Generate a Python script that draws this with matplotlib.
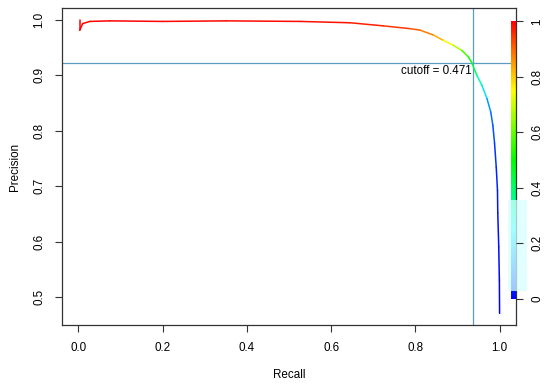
import colorsys
import numpy as np
import matplotlib
matplotlib.use("Agg")
import matplotlib.pyplot as plt
from matplotlib.collections import LineCollection
from matplotlib.colors import ListedColormap
from matplotlib.patches import Rectangle

# values
recall = [0.003, 0.003, 0.010, 0.027, 0.075, 0.200, 0.350, 0.526, 0.645, 0.724,
          0.787, 0.811, 0.843, 0.866, 0.890, 0.910, 0.926, 0.934, 0.946, 0.958,
          0.970, 0.979, 0.984, 0.988, 0.992, 0.995, 0.9957, 0.998, 0.9995, 1.0]
precision = [1.0, 0.981, 0.993, 0.997, 0.998, 0.997, 0.998, 0.997, 0.9946, 0.989,
             0.984, 0.9814, 0.9724, 0.963, 0.954, 0.945, 0.933, 0.9225, 0.900, 0.882,
             0.858, 0.834, 0.810, 0.778, 0.735, 0.693, 0.652, 0.591, 0.531, 0.471]
cutoff = [1.0, 0.999, 0.999, 0.998, 0.997, 0.995, 0.993, 0.99, 0.98, 0.96,
          0.935, 0.90, 0.86, 0.80, 0.72, 0.62, 0.52, 0.471, 0.38, 0.27,
          0.18, 0.12, 0.09, 0.06, 0.04, 0.03, 0.02, 0.012, 0.006, 0.0]
cut_recall = 0.936
cut_precision = 0.9225
cut_label = "cutoff = 0.471"
cbar_ticks = [0, 0.2, 0.4, 0.6, 0.8, 1]
cbar_labels = ["0", "0.2", "0.4", "0.6", "0.8", "1"]


def rainbow(c):
    # R rainbow(start=0, end=4/6), high cutoff = red
    return colorsys.hsv_to_rgb((1 - c) * 2 / 3, 1, 1)


plt.rcParams['font.family'] = ['Liberation Sans', 'DejaVu Sans']
fs = 8.4

fig = plt.figure(figsize=(5.5, 3.86), dpi=100)
ax = fig.add_axes([0.1127, 0.158, 0.8255, 0.821])

pts = np.column_stack([recall, precision])
segs = np.stack([pts[:-1], pts[1:]], axis=1)
cols = [rainbow((cutoff[i] + cutoff[i + 1]) / 2) for i in range(len(cutoff) - 1)]
lc = LineCollection(segs, colors=cols, linewidths=1.1, capstyle='round',
                    joinstyle='round', zorder=3)
ax.add_collection(lc)

line_col = '#5b9cc0'
ax.axhline(cut_precision, color=line_col, lw=0.9, zorder=2)
ax.axvline(cut_recall, color=line_col, lw=0.9, zorder=2)
ax.text(cut_recall - 0.002, cut_precision - 0.004, cut_label, ha='right', va='top',
        fontsize=fs, color='black')

# colour bar inside the plot region
cmap = ListedColormap([rainbow(v) for v in np.linspace(0, 1, 256)])
grad = np.linspace(0, 1, 256).reshape(-1, 1)
ax.imshow(grad, cmap=cmap, extent=[1.027, 1.039, 0.497, 0.997], aspect='auto',
          origin='lower', zorder=2, interpolation='nearest')
ax.add_patch(Rectangle((1.020, 0.511), 0.045, 0.164, facecolor='#d8ffff',
                       edgecolor='none', alpha=0.75, zorder=4, clip_on=False))

ax.set_xlim(-0.039, 1.039)
ax.set_ylim(0.45, 1.021)
ax.set_xticks([0, 0.2, 0.4, 0.6, 0.8, 1.0])
ax.set_xticklabels(["0.0", "0.2", "0.4", "0.6", "0.8", "1.0"])
ax.set_yticks([0.5, 0.6, 0.7, 0.8, 0.9, 1.0])
ax.set_yticklabels(["0.5", "0.6", "0.7", "0.8", "0.9", "1.0"], rotation=90, va='center')
ax.tick_params(direction='out', length=5, width=0.8, labelsize=fs, color='#333333', pad=7)
ax.set_xlabel("Recall", fontsize=fs, labelpad=11)
ax.set_ylabel("Precision", fontsize=fs, labelpad=9)
for sp in ax.spines.values():
    sp.set_color('#333333')
    sp.set_linewidth(0.9)

ax2 = ax.twinx()
lo, hi = ax.get_ylim()
ax2.set_ylim((lo - 0.497) / 0.5, (hi - 0.497) / 0.5)
ax2.set_yticks(cbar_ticks)
ax2.set_yticklabels(cbar_labels, rotation=90, va='center')
ax2.tick_params(direction='out', length=5, width=0.8, labelsize=fs, color='#333333', pad=6)
for sp in ax2.spines.values():
    sp.set_visible(False)

fig.savefig("out.png", dpi=100)
